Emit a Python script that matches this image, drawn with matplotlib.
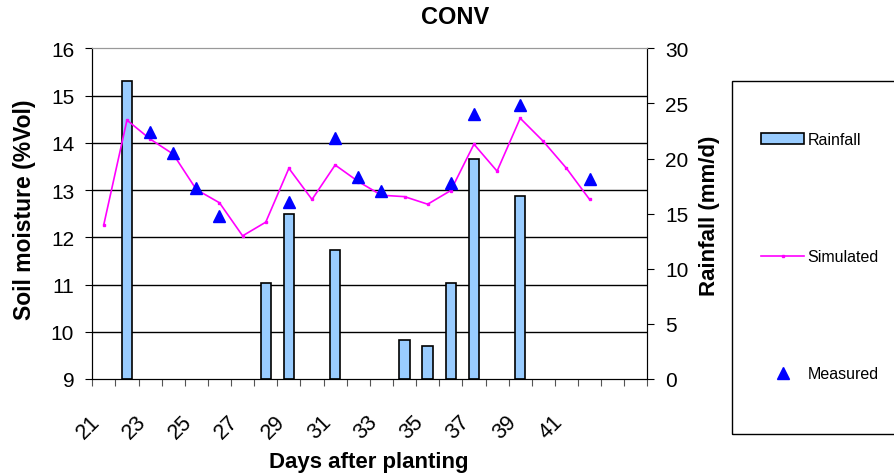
import matplotlib
matplotlib.use('Agg')
import matplotlib.pyplot as plt
import matplotlib.transforms as mtransforms
from matplotlib.patches import Rectangle
from matplotlib.lines import Line2D

plt.rcParams['font.family'] = ['Liberation Sans', 'DejaVu Sans']

# data
sim_days = [21, 22, 23, 24, 25, 26, 27, 28, 29, 30, 31, 32, 33, 34, 35, 36, 37, 38, 39, 40, 41, 42]
sim_sm = [12.27, 14.48, 14.08, 13.76, 13.01, 12.73, 12.03, 12.32, 13.46, 12.80, 13.53, 13.18,
          12.89, 12.86, 12.70, 12.99, 13.97, 13.40, 14.52, 14.03, 13.46, 12.80]
meas_days = [23, 24, 25, 26, 29, 31, 32, 33, 36, 37, 39, 42]
meas_sm = [14.22, 13.79, 13.05, 12.44, 12.75, 14.10, 13.27, 12.99, 13.15, 14.61, 14.80, 13.24]
rain_days = [22, 28, 29, 31, 34, 35, 36, 37, 39]
rain_mm = [27.0, 8.7, 15.0, 11.7, 3.55, 2.95, 8.7, 20.0, 16.6]
label_days = [21, 23, 25, 27, 29, 31, 33, 35, 37, 39, 41]
first_day, last_day = 21, 44

fig = plt.figure(figsize=(8.94, 4.77), dpi=100)
ax = fig.add_axes([0.1032, 0.2034, 0.621, 0.6932])
ax2 = ax.twinx()
# rainfall behind the soil moisture series
ax2.set_zorder(ax.zorder - 1)
ax.patch.set_visible(False)

# gridlines follow the left axis but sit behind the bars
sm_ticks = [9, 10, 11, 12, 13, 14, 15, 16]
ax2.hlines(sm_ticks[1:-1], 0, 1, transform=ax.get_yaxis_transform(), colors='black', lw=1.0, zorder=0.5)

ax2.bar(rain_days, rain_mm, width=0.45, color='#99CCFF', edgecolor='black', linewidth=1.2, zorder=2)
ax.plot(sim_days, sim_sm, color='#FF00FF', lw=1.2, marker='s', ms=1.6, zorder=3)
ax.plot(meas_days, meas_sm, ls='none', marker='^', color='#0000FF', ms=8, zorder=4)

ax.set_xlim(first_day - 0.5, last_day + 0.5)
ax.set_ylim(9, 16)
ax2.set_ylim(0, 30)
ax.set_yticks(sm_ticks)
ax2.set_yticks([0, 5, 10, 15, 20, 25, 30])

bounds = [d - 0.5 for d in range(first_day, last_day + 2)]
ax.set_xticks(bounds)
ax.set_xticklabels([])
ax.set_xticks(label_days, minor=True)
ax.set_xticklabels([str(d) for d in label_days], minor=True, rotation=45, ha='right', va='top')
shift = mtransforms.ScaledTranslation(-9 / 100, 0, fig.dpi_scale_trans)
for lab in ax.get_xticklabels(minor=True):
    lab.set_transform(lab.get_transform() + shift)
ax.tick_params(axis='x', which='major', direction='out', length=5, color='#555555')
ax.tick_params(axis='x', which='minor', length=0, pad=23, labelsize=15.5)
ax.tick_params(axis='y', direction='out', length=5, pad=8, labelsize=15)
ax2.tick_params(axis='y', direction='out', length=5, pad=8, labelsize=15)

ax.spines['top'].set_color('#999999')
ax2.spines['top'].set_color('#999999')
ax2.spines['right'].set_color('#444444')

fig.text(0.509, 1 - 17 / 477, 'CONV', ha='center', va='center', fontsize=17, fontweight='bold')
fig.text(25 / 894, 1 - 210 / 477, 'Soil moisture (%Vol)', rotation=90, ha='center', va='center',
         fontsize=16.5, fontweight='bold')
fig.text(710 / 894, 1 - 216 / 477, 'Rainfall (mm/d)', rotation=90, ha='center', va='center',
         fontsize=16, fontweight='bold')
fig.text(369 / 894, 1 - 463 / 477, 'Days after planting', ha='center', va='center',
         fontsize=16, fontweight='bold')

# legend box runs off the right edge like the original
fig.add_artist(Rectangle((731.7 / 894, 1 - 435 / 477), 0.3, (435 - 81.7) / 477,
                         transform=fig.transFigure, fill=False, ec='black', lw=1.0))
handles = [Rectangle((0, 0), 1, 1, fc='#99CCFF', ec='black', lw=1.2),
           Line2D([], [], color='#FF00FF', lw=1.2, marker='s', ms=1.6),
           Line2D([], [], ls='none', marker='^', color='#0000FF', ms=8)]
fig.legend(handles, ['Rainfall', 'Simulated', 'Measured'], loc='upper left',
           bbox_to_anchor=(761 / 894, 1 - 133 / 477), frameon=False, fontsize=11.5,
           borderpad=0, borderaxespad=0, handlelength=2.7, handleheight=0.65,
           handletextpad=0.2, labelspacing=6.4)

fig.savefig('out.png', dpi=100)
